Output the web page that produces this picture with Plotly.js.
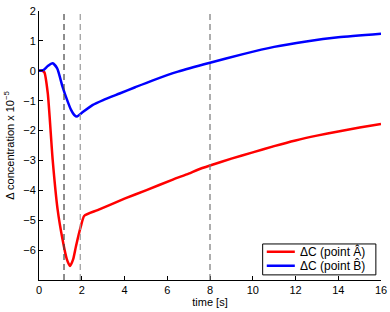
<!DOCTYPE html>
<html><head><meta charset="utf-8">
<script src="https://cdn.plot.ly/plotly-3.0.1.min.js"></script>
<style>html,body{margin:0;padding:0;background:#fff}#c{width:390px;height:312px}</style>
</head><body><div id="c"></div>
<script>
const tA = [0, 0.15, 0.25, 0.41, 0.64, 0.87, 1.1, 1.3, 1.45, 1.6, 1.73, 1.96, 2.12, 2.74, 4, 5, 6.26, 7, 7.43, 8, 9, 10, 11, 12, 13, 14, 15, 16];
const vA = [0, 0, -0.05, -0.75, -2.98, -4.64, -5.64, -6.3, -6.53, -6.3, -5.87, -5.2, -4.85, -4.66, -4.28, -4.0, -3.64, -3.44, -3.31, -3.17, -2.94, -2.73, -2.52, -2.33, -2.17, -2.03, -1.9, -1.78];
const tB = [0, 0.2, 0.41, 0.64, 0.85, 1.1, 1.3, 1.5, 1.65, 1.78, 1.98, 2.5, 3.0, 3.77, 4.5, 5.33, 6.5, 8, 9.5, 11, 12.5, 14, 16];
const vB = [0, 0.02, 0.16, 0.25, 0.08, -0.53, -0.95, -1.31, -1.48, -1.53, -1.42, -1.15, -0.98, -0.76, -0.55, -0.32, -0.03, 0.27, 0.55, 0.8, 0.98, 1.12, 1.24];
const markTimes = [1.17, 1.93, 8];
const markColors = ['#444444', '#999999', '#777777'];
const xTicks = [0, 2, 4, 6, 8, 10, 12, 14, 16];
const yTicks = [-6, -5, -4, -3, -2, -1, 0, 1, 2];
const names = ['ΔC (point Â)', 'ΔC (point B\u0302)'];
const colors = ['#ff0000', '#0000ff'];

const fam = 'Liberation Sans, Arial, sans-serif';
const traces = [
  {x: tA, y: vA, name: names[0], mode: 'lines', line: {color: colors[0], width: 2.5, shape: 'spline', smoothing: 0.6}},
  {x: tB, y: vB, name: names[1], mode: 'lines', line: {color: colors[1], width: 2.5, shape: 'spline', smoothing: 0.6}}
];
const shapes = markTimes.map((t, i) => ({type: 'line', xref: 'x', yref: 'paper', x0: t, x1: t, y0: 0, y1: 1,
  line: {color: markColors[i], width: 1.2, dash: '6px,4px'}}));
// custom compact legend (MATLAB style)
const leg = {x0: 0.654, x1: 0.985, y0: 0.019, y1: 0.134, lx0: 0.666, lx1: 0.748, tx: 0.758, rows: [0.105, 0.053]};
shapes.push({type: 'rect', xref: 'paper', yref: 'paper', x0: leg.x0, x1: leg.x1, y0: leg.y0, y1: leg.y1,
  line: {color: '#000', width: 1}, fillcolor: '#fff', layer: 'above'});
const annotations = [];
names.forEach((n, i) => {
  shapes.push({type: 'line', xref: 'paper', yref: 'paper', x0: leg.lx0, x1: leg.lx1, y0: leg.rows[i], y1: leg.rows[i],
    line: {color: colors[i], width: 2.5}, layer: 'above'});
  annotations.push({xref: 'paper', yref: 'paper', x: leg.tx, y: leg.rows[i], xanchor: 'left', yanchor: 'middle',
    text: n, showarrow: false, font: {family: fam, size: 12, color: '#000'}});
});
const layout = {
  width: 390, height: 312,
  margin: {l: 39, r: 9, t: 11, b: 32},
  paper_bgcolor: '#fff', plot_bgcolor: '#fff',
  font: {family: fam, size: 11, color: '#000'},
  showlegend: false,
  xaxis: {range: [0, 16], tickvals: xTicks, ticks: 'inside', ticklen: 4, tickcolor: '#000',
    showline: true, linecolor: '#000', linewidth: 1, zeroline: false, showgrid: false,
    title: {text: 'time [s]', font: {size: 11}, standoff: 2}},
  yaxis: {range: [-7, 2], tickvals: yTicks, ticks: 'inside', ticklen: 4, tickcolor: '#000',
    showline: true, linecolor: '#000', linewidth: 1, zeroline: false, showgrid: false,
    title: {text: 'Δ concentration x 10<sup>−5</sup>', font: {size: 11}, standoff: 6}},
  xaxis2: {range: [0, 16], overlaying: 'x', side: 'top', tickvals: xTicks, ticks: 'inside', ticklen: 4,
    tickcolor: '#888', showticklabels: false, showline: true, linecolor: '#888', zeroline: false, showgrid: false},
  yaxis2: {range: [-7, 2], overlaying: 'y', side: 'right', tickvals: yTicks, ticks: 'inside', ticklen: 4,
    tickcolor: '#888', showticklabels: false, showline: true, linecolor: '#888', zeroline: false, showgrid: false},
  shapes: shapes,
  annotations: annotations
};
Plotly.newPlot('c', traces, layout, {displayModeBar: false, staticPlot: true});
</script></body></html>
